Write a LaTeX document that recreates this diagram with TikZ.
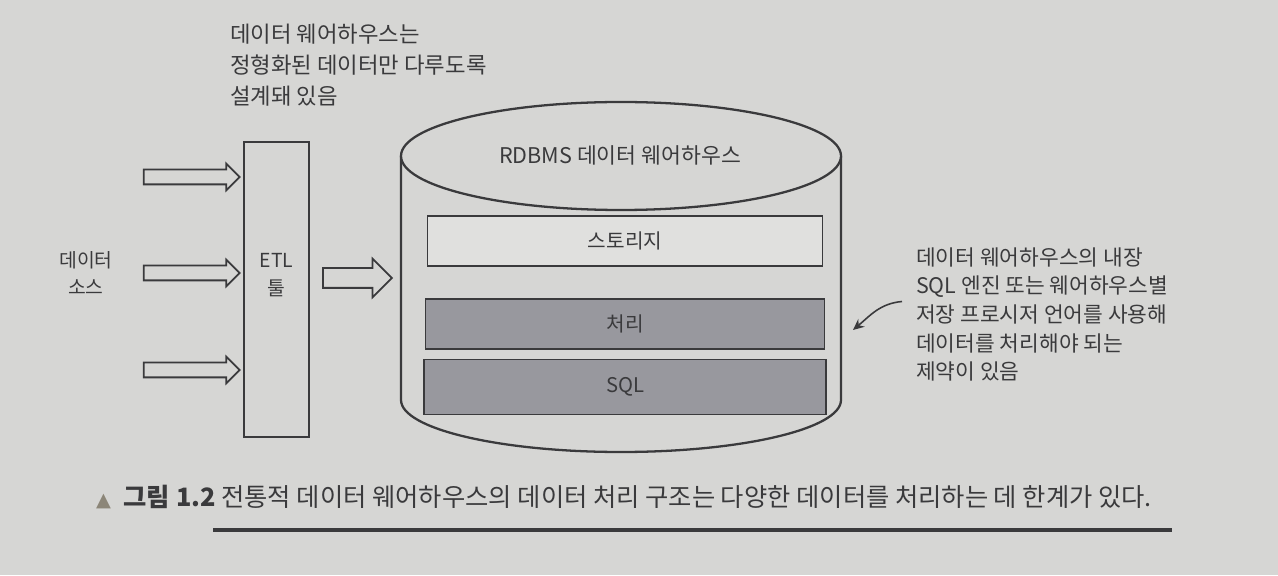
\documentclass[tikz,border=0pt]{standalone}
\usepackage{fontspec}
\setmainfont{Noto Sans CJK KR}
\newfontfamily\symfont{DejaVu Sans}
\usepackage{tikz}
\usetikzlibrary{positioning,arrows.meta,shapes.arrows}
\definecolor{paper}{RGB}{214,214,212}
\definecolor{ink}{RGB}{58,58,60}
\definecolor{shade}{RGB}{152,152,158}
\definecolor{pale}{RGB}{224,224,222}
\definecolor{tri}{RGB}{140,134,120}

\begin{document}
\begin{tikzpicture}[
  x=0.02cm, y=0.02cm, text=ink,
  note/.style={align=left,font=\fontsize{12.7}{17.8}\selectfont},
  lbl/.style={align=center,font=\fontsize{11}{15.9}\selectfont},
  tier/.style={draw=ink,line width=1pt,minimum height=1cm,font=\fontsize{11.5}{13}\selectfont},
  inarrow/.style={single arrow,draw=ink,line width=1pt,fill=paper,inner xsep=0pt,inner ysep=0.13cm,
                  minimum height=1.92cm,minimum width=0.5cm,single arrow head extend=0.12cm},
  outarrow/.style={single arrow,draw=ink,line width=1pt,fill=paper,inner xsep=0pt,inner ysep=0.18cm,
                  minimum height=1.38cm,minimum width=0.74cm,single arrow head extend=0.19cm},
  wall/.style={draw=ink,line width=1.3pt},
  ar/.style={-{Stealth[length=2.2mm,width=2mm]},draw=ink,line width=0.9pt}
]
\fill[paper] (0,0) rectangle (1278,575);
\useasboundingbox (0,0) rectangle (1278,575);

\node[note,anchor=west] (dwnote) at (224,510) {데이터 웨어하우스는\\정형화된 데이터만 다루도록\\설계돼 있음};

\node[draw=ink,line width=1pt,minimum width=1.3cm,minimum height=5.9cm] (etl) at (276.5,285.5) {};
\node[lbl] (etlname) at (276.5,300) {ETL\\툴};

\node[inarrow] (in1) at (188,398) {};
\node[inarrow] (in2) at (188,302) {};
\node[inarrow] (in3) at (188,205) {};
\node[lbl,left=0.48cm of in2] (src) {데이터\\소스};
\node[outarrow] (out) at (352.5,297) {};

\draw[wall,fill=paper] (401,419) -- (401,175) arc[start angle=180,end angle=360,x radius=220,y radius=52] -- (841,419);
\draw[wall,fill=paper] (621,419) ellipse[x radius=220,y radius=54];
\node[lbl,font=\fontsize{12.3}{13}\selectfont] (dw) at (620,420) {RDBMS 데이터 웨어하우스};

\node[tier,fill=pale,minimum width=7.9cm] (store) at (625,334) {스토리지};
\node[tier,fill=shade,minimum width=7.98cm,below=0.62cm of store] (proc) {처리};
\node[tier,fill=shade,minimum width=8.04cm,minimum height=1.1cm,below=0.18cm of proc] (sql) {SQL};

\node[note,anchor=west,font=\fontsize{12.2}{16.3}\selectfont] (limit) at (910,260.5)
  {데이터 웨어하우스의 내장\\SQL 엔진 또는 웨어하우스별\\저장 프로시저 언어를 사용해\\데이터를 처리해야 되는\\제약이 있음};
\coordinate (hit) at (853,245);
\draw[ar] ([shift={(-8,13)}]limit.west) to[out=185,in=40] (hit);

\node[anchor=west,font=\fontsize{14.4}{16}\selectfont] (cap) at (90,78)
  {{\symfont\fontsize{11}{12}\selectfont\color{tri}▲}\enspace{\bfseries 그림 1.2} 전통적 데이터 웨어하우스의 데이터 처리 구조는 다양한 데이터를 처리하는 데 한계가 있다.};
\coordinate (rl) at (213,45);
\coordinate (rr) at (1172,45);
\draw[draw=ink,line width=2.2pt] (rl) -- (rr);
\end{tikzpicture}
\end{document}
